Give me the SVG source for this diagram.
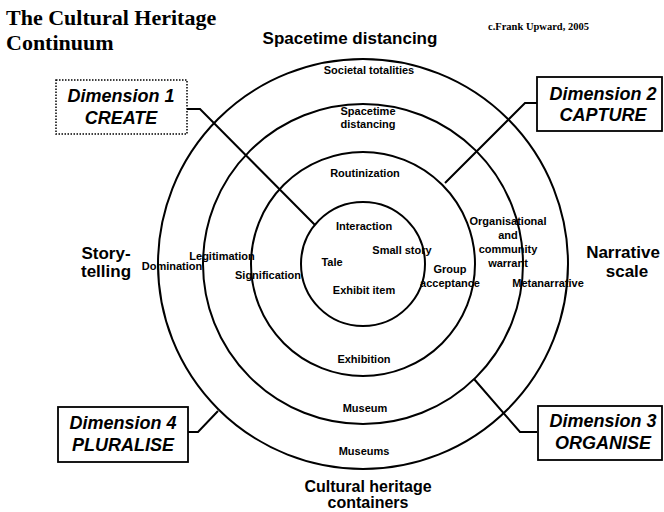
<svg xmlns="http://www.w3.org/2000/svg" width="664" height="512" viewBox="0 0 664 512">
  <style>
    .ring { fill: none; stroke: #000; stroke-width: 2; }
    .box { fill: #fff; stroke: #000; stroke-width: 1.8; }
    .box.dotted { stroke-width: 1.5; stroke-dasharray: 1.5 1.5; }
    .conn { fill: none; stroke: #000; stroke-width: 2; stroke-linejoin: miter; }
    .title { font-family: "Liberation Serif", "Times New Roman", serif; font-weight: bold; font-size: 22px; fill: #000; }
    .credit { font-family: "Liberation Serif", "Times New Roman", serif; font-weight: bold; font-size: 10.5px; fill: #000; }
    .axis { font-family: "Liberation Sans", Arial, sans-serif; font-weight: bold; font-size: 17px; fill: #000; text-anchor: middle; }
    .axis.low { font-size: 16px; }
    .lbl { font-family: "Liberation Sans", Arial, sans-serif; font-weight: bold; font-size: 11px; fill: #000; text-anchor: middle; }
    .dim { font-family: "Liberation Sans", Arial, sans-serif; font-weight: bold; font-style: italic; font-size: 18px; fill: #000; text-anchor: middle; }
  </style>

  <rect width="664" height="512" fill="#fff"/>

  <!-- heading and credit -->
  <g id="title">
    <text class="title" x="6" y="25">The Cultural Heritage</text>
    <text class="title" x="6" y="50">Continuum</text>
  </g>
  <text class="credit" x="488" y="30">c.Frank Upward, 2005</text>

  <!-- concentric rings -->
  <g id="rings">
    <circle class="ring" cx="363" cy="264" r="205"/>
    <circle class="ring" cx="363" cy="264" r="160"/>
    <circle class="ring" cx="363" cy="264" r="112"/>
    <circle class="ring" cx="363" cy="264" r="62"/>
  </g>

  <!-- connectors from dimension boxes to the rings -->
  <g id="connectors">
    <polyline class="conn" points="173,109 200,109 315,225"/>
    <polyline class="conn" points="537,103 525,103 445,183"/>
    <polyline class="conn" points="537,432 520,432 474,379"/>
    <polyline class="conn" points="185,432 198,432 218,411"/>
  </g>

  <!-- axis labels -->
  <g id="axis-labels">
    <text class="axis" x="350" y="44">Spacetime distancing</text>
    <text class="axis" x="106" y="259">Story-</text>
    <text class="axis" x="106" y="277">telling</text>
    <text class="axis" x="623" y="258">Narrative</text>
    <text class="axis" x="627" y="277">scale</text>
    <text class="axis low" x="368" y="492">Cultural heritage</text>
    <text class="axis low" x="368" y="508">containers</text>
  </g>

  <!-- ring labels -->
  <g id="ring-labels">
    <text class="lbl" x="369" y="74">Societal totalities</text>
    <text class="lbl" x="368" y="115">Spacetime</text>
    <text class="lbl" x="368" y="128">distancing</text>
    <text class="lbl" x="365" y="177">Routinization</text>
    <text class="lbl" x="364" y="230">Interaction</text>
    <text class="lbl" x="402" y="254">Small story</text>
    <text class="lbl" x="332" y="266">Tale</text>
    <text class="lbl" x="364" y="294">Exhibit item</text>
    <text class="lbl" x="268" y="279">Signification</text>
    <text class="lbl" x="222" y="260">Legitimation</text>
    <text class="lbl" x="172" y="270">Domination</text>
    <text class="lbl" x="450" y="273">Group</text>
    <text class="lbl" x="450" y="287">acceptance</text>
    <text class="lbl" x="508" y="225">Organisational</text>
    <text class="lbl" x="508" y="239">and</text>
    <text class="lbl" x="508" y="253">community</text>
    <text class="lbl" x="508" y="267">warrant</text>
    <text class="lbl" x="548" y="287">Metanarrative</text>
    <text class="lbl" x="364" y="363">Exhibition</text>
    <text class="lbl" x="365" y="412">Museum</text>
    <text class="lbl" x="364" y="455">Museums</text>
  </g>

  <!-- dimension boxes -->
  <g id="dimension-1">
    <rect class="box dotted" x="56" y="80" width="131" height="54"/>
    <text class="dim" x="121" y="102">Dimension 1</text>
    <text class="dim" x="121" y="124">CREATE</text>
  </g>
  <g id="dimension-2">
    <rect class="box" x="537" y="77" width="125" height="54"/>
    <text class="dim" x="603" y="100">Dimension 2</text>
    <text class="dim" x="603" y="121">CAPTURE</text>
  </g>
  <g id="dimension-3">
    <rect class="box" x="538" y="406" width="124" height="54"/>
    <text class="dim" x="603" y="427">Dimension 3</text>
    <text class="dim" x="603" y="449">ORGANISE</text>
  </g>
  <g id="dimension-4">
    <rect class="box" x="58" y="407" width="130" height="55"/>
    <text class="dim" x="123" y="429">Dimension 4</text>
    <text class="dim" x="123" y="451">PLURALISE</text>
  </g>
</svg>
